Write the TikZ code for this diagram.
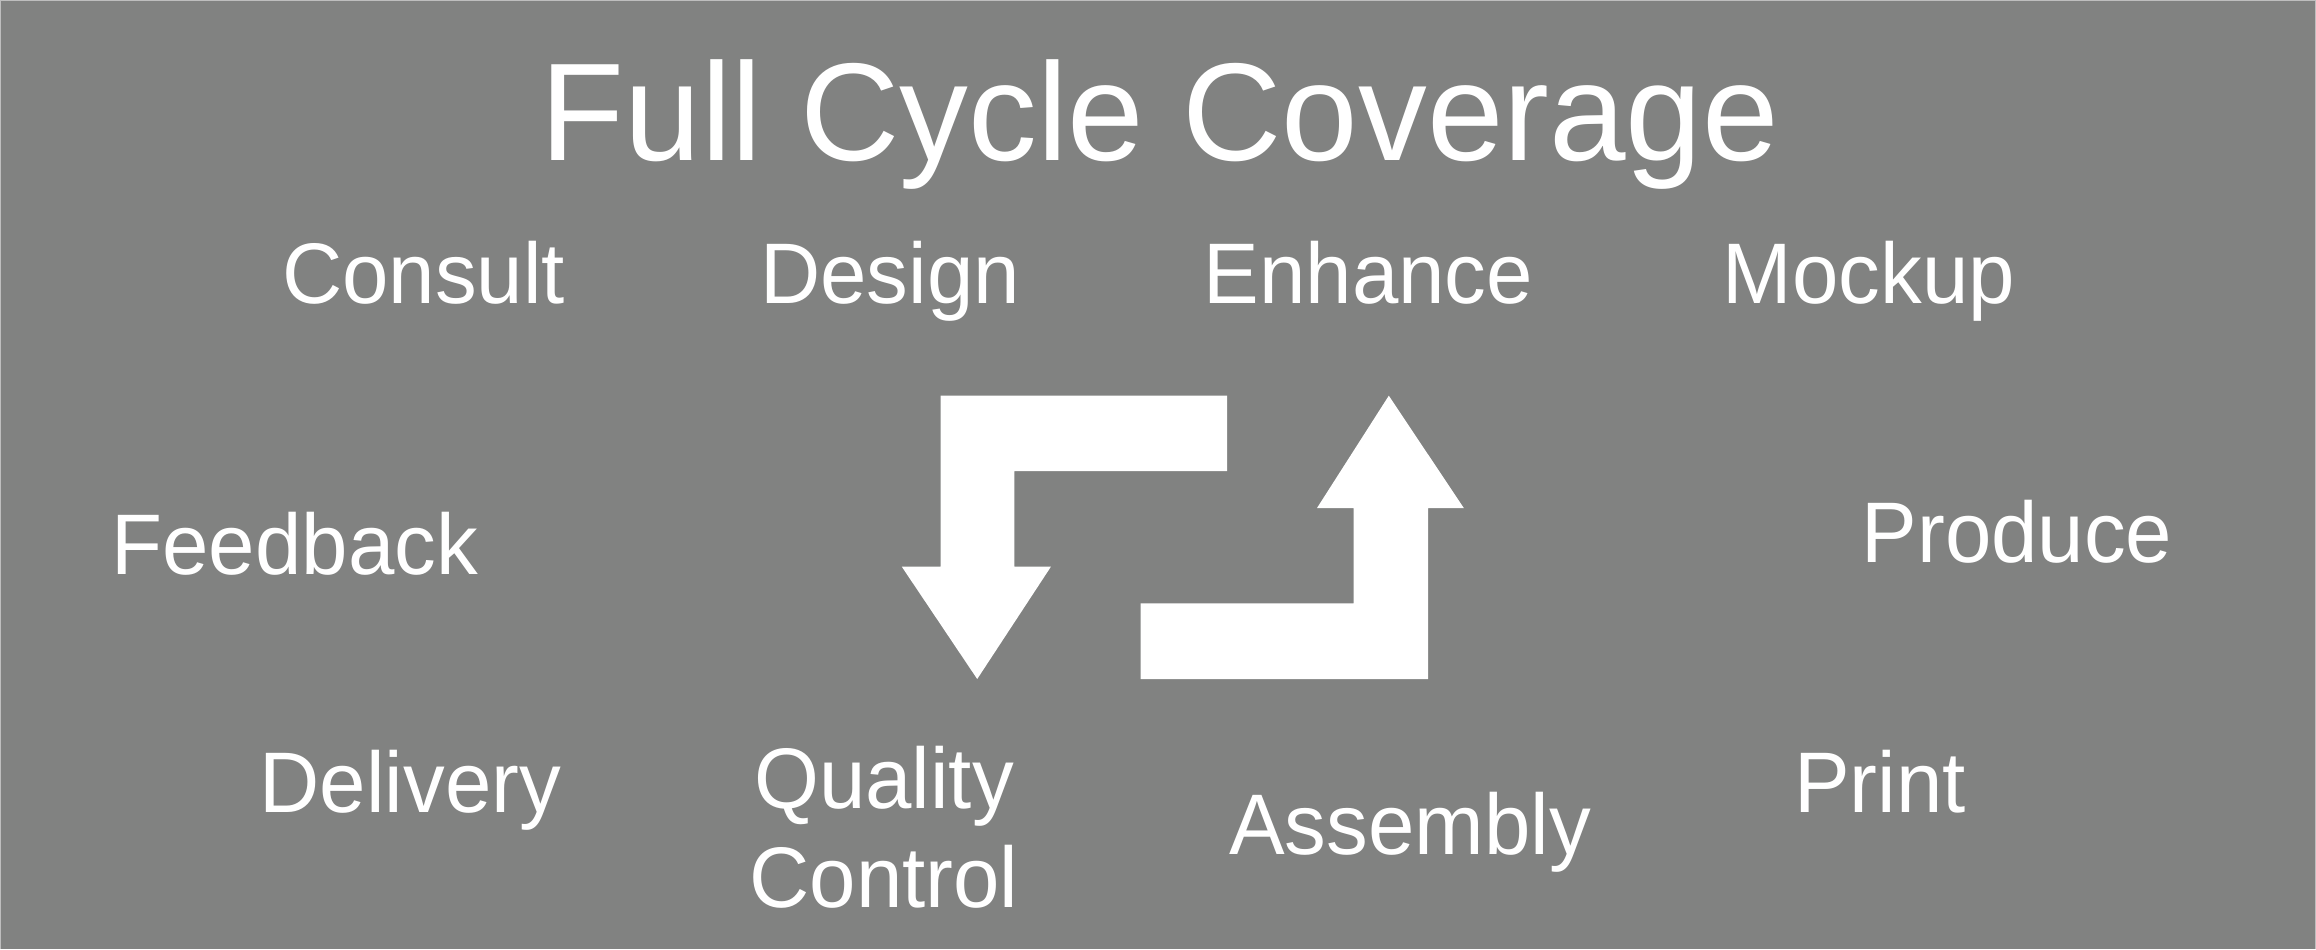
\documentclass[tikz,border=0pt]{standalone}
\usepackage{fontspec}
\setmainfont{Liberation Sans}
\newfontfamily\lblfont[FakeStretch=0.97]{Liberation Sans}
\newfontfamily\ttlfont[FakeStretch=0.988]{Liberation Sans}
\definecolor{bggray}{RGB}{129,130,129}
\definecolor{edgegray}{RGB}{190,190,190}
\begin{document}
\begin{tikzpicture}[x=0.5pt,y=-0.5pt,
  lbl/.style={text=white,inner sep=0pt,anchor=base,font=\lblfont\fontsize{43}{49.75}\selectfont},
  ttl/.style={text=white,inner sep=0pt,anchor=base,font=\ttlfont\fontsize{69.6}{80}\selectfont},
  bigarrow/.style={fill=white,draw=none}]
\fill[bggray] (0,0) rectangle (2316,949);
\useasboundingbox (0,0) rectangle (2316,949);
\draw[edgegray,line width=0.6pt] (0.5,949) -- (0.5,0.5) -- (2315.5,0.5) -- (2315.5,949);

\node[ttl] (title) at (1160,160) {Full Cycle Coverage};

\node[lbl] (consult) at (423.5,303) {Consult};
\node[lbl] (design) at (890,303) {Design};
\node[lbl] (enhance) at (1368.4,303) {Enhance};
\node[lbl] (mockup) at (1869,303) {Mockup};
\node[lbl] (feedback) at (294.7,574) {Feedback};
\node[lbl] (produce) at (2017,562) {Produce};
\node[lbl] (delivery) at (410.4,812) {Delivery};
\node[lbl,align=center] (quality) at (884,907.7) {Quality\\Control};
\node[lbl] (assembly) at (1410,854) {Assembly};
\node[lbl] (print) at (1880,812) {Print};

\fill[bigarrow] (940.6,395.7) -- (1227.2,395.7) -- (1227.2,471) -- (1014.3,471)
  -- (1014.3,566.7) -- (1050.9,566.7) -- (977.2,679) -- (901.8,566.7) -- (940.6,566.7) -- cycle;
\fill[bigarrow] (1388.8,395.7) -- (1463.8,508) -- (1428.1,508) -- (1428.1,679)
  -- (1140.6,679) -- (1140.6,603.3) -- (1353.6,603.3) -- (1353.6,508) -- (1317,508) -- cycle;
\end{tikzpicture}
\end{document}
